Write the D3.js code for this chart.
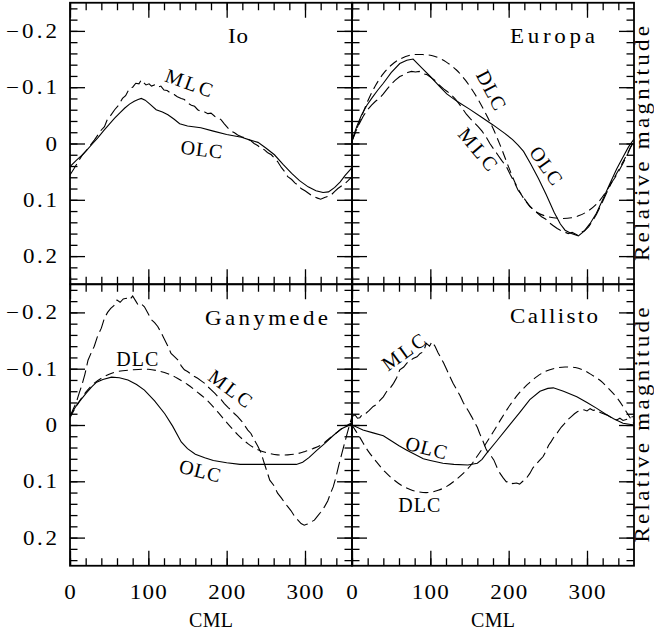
<!DOCTYPE html>
<html>
<head>
<meta charset="utf-8">
<script src="https://cdn.jsdelivr.net/npm/d3@7"></script>
<style>
  body { margin: 0; background: #fff; }
  svg { display: block; }
  text { font-family: "Liberation Serif", "Times New Roman", serif; fill: #000; }
</style>
</head>
<body>
<svg id="chart" width="654" height="633"></svg>
<script>
// Light curves of the Galilean satellites: relative magnitude against CML.
// Each series is a list of [CML (deg), relative magnitude] pairs.

const ioOLC = [[0,0.041],[8,0.030],[15,0.021],[22,0.011],[29,0.000],[36,-0.011],[43,-0.023],[50,-0.034],[57,-0.045],[64,-0.055],[70,-0.063],[76,-0.070],[82,-0.075],[87,-0.078],[91,-0.080],[96,-0.077],[102,-0.070],[110,-0.060],[118,-0.056],[125,-0.051],[133,-0.043],[140,-0.035],[150,-0.031],[167,-0.028],[183,-0.022],[200,-0.016],[219,-0.011],[230,-0.006],[240,-0.002],[250,0.008],[261,0.020],[272,0.037],[283,0.053],[293,0.066],[304,0.077],[314,0.084],[323,0.087],[330,0.086],[338,0.078],[345,0.068],[351,0.057],[360,0.043]];

const ioMLC = [[0,0.056],[5,0.045],[10,0.033],[15,0.022],[20,0.014],[25,0.005],[31,-0.006],[35,-0.014],[40,-0.024],[44,-0.030],[48,-0.044],[52,-0.050],[57,-0.060],[62,-0.068],[67,-0.080],[71,-0.085],[76,-0.098],[80,-0.100],[84,-0.107],[88,-0.106],[91,-0.113],[94,-0.108],[97,-0.104],[101,-0.106],[104,-0.102],[108,-0.104],[112,-0.100],[116,-0.102],[120,-0.095],[124,-0.094],[129,-0.089],[133,-0.087],[137,-0.083],[142,-0.080],[146,-0.078],[150,-0.072],[155,-0.068],[159,-0.066],[163,-0.060],[168,-0.056],[172,-0.056],[176,-0.053],[180,-0.054],[185,-0.048],[189,-0.046],[193,-0.042],[197,-0.035],[202,-0.027],[206,-0.022],[210,-0.019],[214,-0.015],[219,-0.012],[225,-0.009],[230,-0.006],[235,0.000],[240,0.004],[244,0.009],[248,0.011],[252,0.016],[257,0.020],[261,0.026],[265,0.032],[270,0.043],[274,0.050],[278,0.059],[283,0.064],[287,0.070],[291,0.074],[295,0.080],[300,0.084],[304,0.088],[308,0.092],[312,0.095],[316,0.097],[320,0.099],[325,0.096],[329,0.094],[333,0.092],[338,0.085],[342,0.080],[346,0.076],[351,0.071],[355,0.066],[360,0.059]];

const europaOLC = [[0,-0.006],[6,-0.030],[12,-0.050],[19,-0.068],[26,-0.082],[33,-0.095],[40,-0.107],[50,-0.126],[61,-0.142],[70,-0.148],[78,-0.150],[90,-0.133],[100,-0.119],[112,-0.101],[121,-0.088],[135,-0.074],[150,-0.061],[165,-0.047],[180,-0.033],[195,-0.018],[205,-0.007],[212,0.003],[219,0.014],[228,0.036],[238,0.062],[248,0.091],[258,0.122],[266,0.143],[272,0.154],[280,0.160],[289,0.164],[296,0.156],[304,0.142],[312,0.124],[320,0.100],[329,0.072],[338,0.045],[346,0.024],[353,0.006],[360,-0.008]];

const europaMLC = [[0,-0.004],[5,-0.022],[10,-0.037],[15,-0.050],[20,-0.060],[25,-0.068],[30,-0.075],[35,-0.080],[40,-0.088],[45,-0.097],[50,-0.105],[55,-0.112],[61,-0.119],[66,-0.122],[71,-0.126],[76,-0.128],[81,-0.127],[86,-0.128],[91,-0.124],[96,-0.122],[101,-0.117],[106,-0.112],[112,-0.103],[117,-0.097],[122,-0.092],[127,-0.086],[132,-0.079],[137,-0.070],[142,-0.060],[146,-0.052],[151,-0.044],[156,-0.037],[161,-0.030],[166,-0.022],[171,-0.012],[176,0.000],[181,0.010],[186,0.020],[191,0.030],[197,0.041],[202,0.055],[207,0.068],[212,0.083],[217,0.092],[222,0.102],[227,0.112],[232,0.118],[237,0.124],[242,0.130],[247,0.134],[252,0.141],[257,0.146],[262,0.151],[266,0.154],[271,0.157],[276,0.160],[281,0.158],[287,0.162],[292,0.158],[297,0.155],[302,0.148],[307,0.138],[312,0.126],[317,0.112],[321,0.100],[326,0.085],[331,0.070],[336,0.060],[341,0.048],[346,0.035],[351,0.022],[355,0.008],[360,-0.004]];

const europaDLC = [[0,-0.005],[10,-0.040],[20,-0.075],[30,-0.103],[40,-0.124],[50,-0.139],[60,-0.149],[75,-0.157],[90,-0.158],[105,-0.155],[120,-0.145],[133,-0.131],[145,-0.112],[159,-0.083],[170,-0.055],[180,-0.027],[190,0.006],[200,0.042],[210,0.075],[222,0.103],[236,0.122],[250,0.130],[265,0.133],[280,0.132],[290,0.128],[300,0.121],[312,0.108],[325,0.084],[338,0.053],[350,0.022],[360,-0.005]];

const ganymedeOLC = [[0,-0.016],[7,-0.032],[14,-0.045],[21,-0.057],[28,-0.068],[34,-0.076],[42,-0.081],[53,-0.085],[63,-0.084],[74,-0.080],[85,-0.072],[95,-0.062],[108,-0.043],[121,-0.020],[131,0.002],[142,0.030],[150,0.042],[160,0.052],[172,0.058],[183,0.063],[200,0.067],[217,0.070],[250,0.070],[289,0.070],[297,0.066],[305,0.058],[315,0.045],[325,0.033],[335,0.020],[346,0.007],[360,-0.002]];

const ganymedeMLC = [[0,-0.015],[4,-0.028],[8,-0.040],[12,-0.058],[15,-0.070],[19,-0.090],[23,-0.115],[27,-0.128],[31,-0.140],[35,-0.157],[40,-0.172],[44,-0.190],[48,-0.200],[52,-0.207],[56,-0.212],[60,-0.222],[64,-0.218],[68,-0.224],[72,-0.225],[76,-0.222],[80,-0.229],[84,-0.220],[87,-0.213],[91,-0.215],[95,-0.210],[99,-0.200],[104,-0.187],[108,-0.182],[112,-0.175],[116,-0.165],[121,-0.151],[125,-0.140],[129,-0.127],[133,-0.122],[138,-0.115],[142,-0.105],[146,-0.098],[150,-0.095],[155,-0.090],[159,-0.086],[163,-0.083],[168,-0.078],[172,-0.074],[176,-0.068],[180,-0.063],[185,-0.056],[189,-0.050],[193,-0.045],[197,-0.038],[202,-0.031],[206,-0.026],[210,-0.020],[214,-0.015],[219,-0.007],[223,0.001],[227,0.009],[231,0.015],[235,0.026],[240,0.038],[244,0.050],[248,0.068],[252,0.085],[255,0.098],[260,0.107],[265,0.121],[270,0.130],[274,0.138],[278,0.145],[282,0.152],[287,0.163],[291,0.169],[295,0.175],[299,0.178],[303,0.176],[308,0.172],[312,0.169],[316,0.162],[320,0.155],[325,0.145],[329,0.135],[333,0.120],[336,0.110],[340,0.090],[343,0.072],[346,0.056],[350,0.035],[355,0.009],[360,-0.015]];

const ganymedeDLC = [[0,-0.013],[10,-0.038],[20,-0.058],[30,-0.073],[40,-0.083],[50,-0.090],[61,-0.095],[80,-0.098],[100,-0.099],[113,-0.096],[125,-0.091],[137,-0.083],[150,-0.072],[162,-0.059],[175,-0.044],[188,-0.024],[201,-0.003],[214,0.017],[227,0.033],[240,0.044],[253,0.050],[265,0.053],[278,0.053],[290,0.051],[300,0.047],[310,0.042],[321,0.035],[331,0.024],[342,0.012],[351,0.003],[360,-0.004]];

const callistoOLC = [[0,0.000],[14,0.009],[27,0.014],[40,0.019],[50,0.028],[60,0.037],[70,0.045],[80,0.052],[91,0.060],[100,0.063],[116,0.068],[130,0.070],[148,0.071],[160,0.068],[166,0.061],[172,0.050],[185,0.028],[200,0.002],[214,-0.022],[227,-0.045],[240,-0.060],[250,-0.065],[257,-0.066],[270,-0.060],[287,-0.050],[300,-0.040],[312,-0.030],[323,-0.020],[334,-0.011],[346,-0.003],[360,0.000]];

const callistoMLC = [[0,-0.015],[4,-0.018],[7,-0.012],[10,-0.013],[14,-0.020],[18,-0.021],[22,-0.026],[27,-0.033],[31,-0.036],[36,-0.044],[40,-0.050],[44,-0.059],[48,-0.064],[53,-0.074],[57,-0.084],[61,-0.098],[66,-0.103],[70,-0.110],[74,-0.114],[78,-0.118],[83,-0.121],[87,-0.127],[91,-0.130],[95,-0.145],[99,-0.140],[102,-0.148],[106,-0.140],[110,-0.128],[114,-0.118],[117,-0.110],[121,-0.098],[125,-0.086],[129,-0.074],[134,-0.062],[138,-0.052],[142,-0.040],[145,-0.033],[149,-0.024],[153,-0.014],[156,-0.006],[160,0.004],[163,0.015],[167,0.028],[171,0.042],[174,0.050],[178,0.056],[181,0.062],[185,0.075],[189,0.086],[193,0.094],[197,0.101],[201,0.100],[205,0.104],[210,0.103],[214,0.105],[218,0.100],[222,0.096],[227,0.086],[231,0.076],[235,0.070],[240,0.062],[244,0.056],[247,0.048],[251,0.036],[254,0.030],[258,0.021],[262,0.014],[267,0.004],[271,-0.002],[276,-0.010],[280,-0.015],[284,-0.020],[288,-0.024],[292,-0.025],[296,-0.027],[300,-0.025],[304,-0.029],[308,-0.026],[312,-0.027],[317,-0.022],[321,-0.020],[325,-0.018],[330,-0.014],[334,-0.011],[338,-0.009],[342,-0.012],[346,-0.008],[351,-0.010],[355,-0.014],[360,-0.015]];

const callistoDLC = [[0,0.000],[10,0.022],[20,0.045],[31,0.065],[42,0.083],[53,0.097],[64,0.108],[75,0.115],[86,0.119],[97,0.120],[110,0.116],[121,0.109],[132,0.098],[142,0.086],[152,0.071],[160,0.055],[170,0.035],[180,0.013],[190,-0.010],[202,-0.036],[213,-0.056],[224,-0.072],[236,-0.086],[248,-0.096],[260,-0.101],[272,-0.103],[285,-0.102],[296,-0.097],[306,-0.089],[317,-0.079],[328,-0.064],[339,-0.047],[350,-0.024],[360,-0.002]];

// Axis ticks and their labels
const xMajorTicks = [0, 100, 200, 300];
const xTickLabels = ["0", "100", "200", "300"];
const yMajorTicks = [-0.2, -0.1, 0, 0.1, 0.2];
const yTickLabels = ["\u22120.2", "\u22120.1", "0", "0.1", "0.2"];
const xMinorTicks = d3.range(0, 360, 20);
const yMinorTicks = d3.range(-12, 13).map(i => i / 50);

// Panel layout
const plotLeft = 70, plotTop = 2.75, panelW = 282, panelH = 281.5;
const majorLen = 15, minorLen = 7.5;

const panels = [
  { name: "Io", col: 0, row: 0, nameAt: [158, 40],
    series: [["OLC", ioOLC], ["MLC", ioMLC]],
    notes: [["MLC", 152, -0.108, 20], ["OLC", 168, 0.010, 7]] },
  { name: "Europa", col: 1, row: 0, nameAt: [158, 40],
    series: [["OLC", europaOLC], ["MLC", europaMLC], ["DLC", europaDLC]],
    notes: [["DLC", 178, -0.095, 62], ["MLC", 161, 0.010, 50], ["OLC", 248, 0.039, 55]] },
  { name: "Ganymede", col: 0, row: 1, nameAt: [135, 40.5],
    series: [["OLC", ganymedeOLC], ["MLC", ganymedeMLC], ["DLC", ganymedeDLC]],
    notes: [["DLC", 86, -0.118, 0], ["MLC", 205, -0.065, 37], ["OLC", 166, 0.081, 14]] },
  { name: "Callisto", col: 1, row: 1, nameAt: [158, 39],
    series: [["OLC", callistoOLC], ["MLC", callistoMLC], ["DLC", callistoDLC]],
    notes: [["MLC", 66, -0.130, -36], ["OLC", 95, 0.040, 14], ["DLC", 86, 0.142, 0]] }
];

const lineStyle = {
  OLC: { dash: null, curve: d3.curveLinear },
  MLC: { dash: "13,5", curve: d3.curveLinear },
  DLC: { dash: "9,5", curve: d3.curveCatmullRom }
};

// Drawn widths of the text items (the lettering is wide and widely spaced)
const textWidths = {
  "Io": 20, "Europa": 85, "Ganymede": 123, "Callisto": 88,
  "MLC": 49, "OLC": 42, "DLC": 42, "CML": 44,
  "Relative magnitude": 235,
  "0": 12, "100": 37, "200": 37, "300": 37,
  "\u22120.2": 51, "\u22120.1": 51, "0.1": 34, "0.2": 34
};
const fontSize = 20;
const wideX = 1.15;   // horizontal stretch for lower-case words and numerals

const svg = d3.select("#chart");
const defs = svg.append("defs");

// place a text item at (px, py) with optional rotation and horizontal stretch
function addText(parent, str, px, py, opts = {}) {
  const stretch = opts.stretch ? wideX : 1;
  const t = parent.append("text")
    .attr("transform", `translate(${px},${py}) rotate(${opts.angle || 0}) scale(${stretch},1)`)
    .attr("text-anchor", opts.anchor || "start")
    .attr("font-size", fontSize)
    .text(str);
  if (opts.dy) t.attr("dy", opts.dy);
  if (textWidths[str]) t.attr("textLength", textWidths[str] / stretch).attr("lengthAdjust", "spacing");
  return t;
}

const x = d3.scaleLinear().domain([0, 360]).range([0, panelW]);
const y = d3.scaleLinear().domain([-0.25, 0.25]).range([0, panelH]);

panels.forEach((p, i) => {
  const ox = plotLeft + p.col * panelW, oy = plotTop + p.row * panelH;
  const g = svg.append("g").attr("transform", `translate(${ox},${oy})`);

  const clipId = "clip" + i;
  defs.append("clipPath").attr("id", clipId)
    .append("rect").attr("width", panelW).attr("height", panelH);

  // curves
  const curves = g.append("g").attr("clip-path", `url(#${clipId})`);
  p.series.forEach(([kind, data]) => {
    const st = lineStyle[kind];
    const line = d3.line().x(d => x(d[0])).y(d => y(d[1])).curve(st.curve);
    curves.append("path").datum(data)
      .attr("d", line)
      .attr("fill", "none")
      .attr("stroke", "#000")
      .attr("stroke-width", 1.1)
      .attr("stroke-dasharray", st.dash);
  });

  // inward ticks on all four sides
  const tickSets = [
    [d3.axisBottom(x), xMinorTicks, minorLen, `translate(0,${panelH})`],
    [d3.axisBottom(x), xMajorTicks, majorLen, `translate(0,${panelH})`],
    [d3.axisTop(x), xMinorTicks, minorLen, "translate(0,0)"],
    [d3.axisTop(x), xMajorTicks, majorLen, "translate(0,0)"],
    [d3.axisLeft(y), yMinorTicks, minorLen, "translate(0,0)"],
    [d3.axisLeft(y), yMajorTicks, majorLen, "translate(0,0)"],
    [d3.axisRight(y), yMinorTicks, minorLen, `translate(${panelW},0)`],
    [d3.axisRight(y), yMajorTicks, majorLen, `translate(${panelW},0)`]
  ];
  tickSets.forEach(([ax, vals, len, tr]) => {
    const a = g.append("g").attr("transform", tr)
      .call(ax.tickValues(vals).tickSize(-len).tickSizeOuter(0).tickFormat(""));
    a.select(".domain").remove();
    a.selectAll("line").attr("stroke", "#000").attr("stroke-width", 1.3);
  });

  // frame
  g.append("rect").attr("width", panelW).attr("height", panelH)
    .attr("fill", "none").attr("stroke", "#000").attr("stroke-width", 1.8);

  // satellite name
  addText(g, p.name, p.nameAt[0], p.nameAt[1], { stretch: true });

  // curve labels
  p.notes.forEach(([txt, cml, mag, ang]) => {
    addText(g, txt, x(cml), y(mag), { anchor: "middle", angle: ang, dy: "0.35em" });
  });

  // y tick labels on the left column
  if (p.col === 0) {
    yMajorTicks.forEach((v, k) => {
      addText(g, yTickLabels[k], -13, y(v) + 7, { anchor: "end", stretch: true });
    });
  }
  // relative magnitude on the right column
  if (p.col === 1) {
    addText(g, "Relative magnitude", panelW + 15, panelH / 2,
      { anchor: "middle", angle: -90, stretch: true });
  }
  // x tick labels and title on the bottom row
  if (p.row === 1) {
    xMajorTicks.forEach((v, k) => {
      addText(g, xTickLabels[k], x(v), panelH + 33, { anchor: "middle", stretch: true });
    });
    addText(g, "CML", panelW / 2, panelH + 61, { anchor: "middle" });
  }
});
</script>
</body>
</html>
